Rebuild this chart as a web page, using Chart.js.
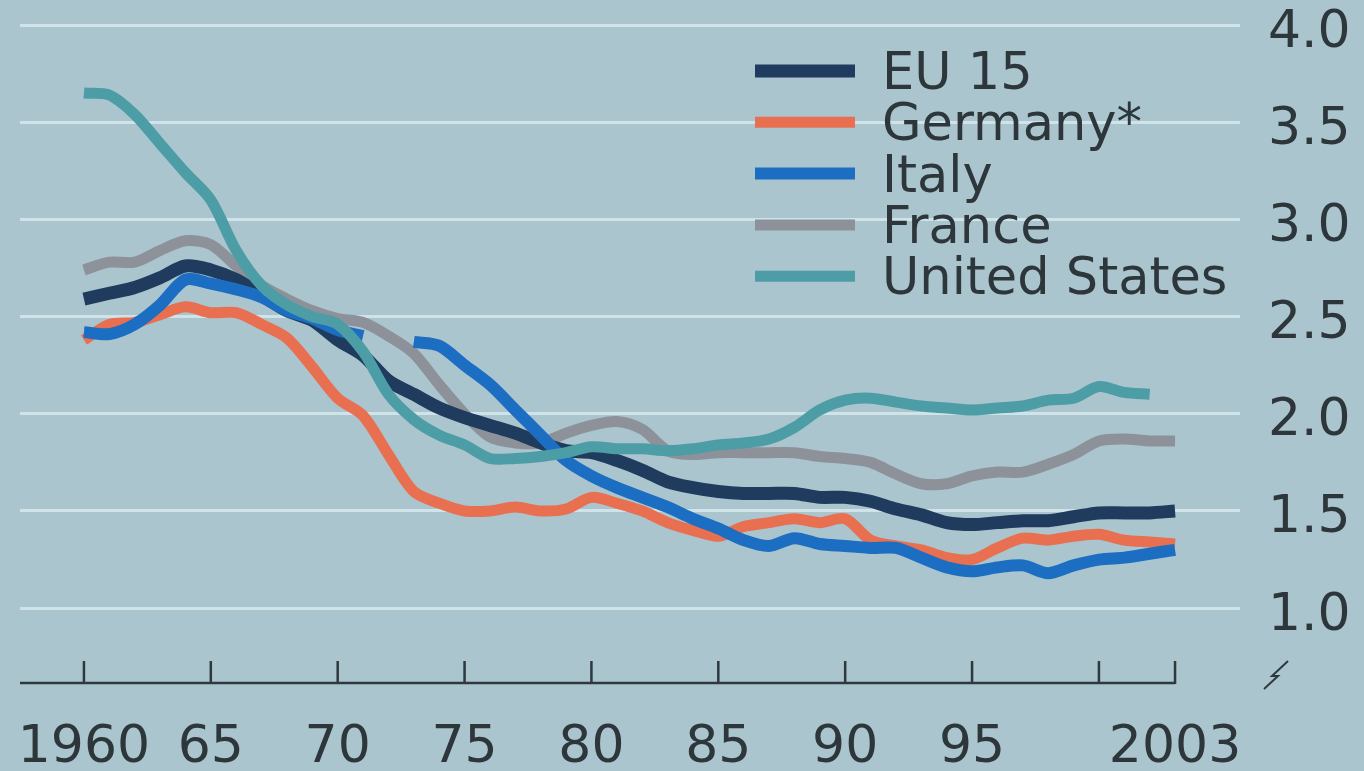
<!DOCTYPE html>
<html>
<head>
<meta charset="utf-8">
<script src="https://cdn.jsdelivr.net/npm/chart.js@4.4.1/dist/chart.umd.min.js"></script>
<style>
  html, body { margin: 0; padding: 0; background: #abc5ce; }
  #wrap { width: 1364px; height: 771px; }
</style>
</head>
<body>
<div id="wrap"><canvas id="myChart" width="1364" height="771"></canvas></div>
<script>
const years = [1960, 1961, 1962, 1963, 1964, 1965, 1966, 1967, 1968, 1969,
    1970, 1971, 1972, 1973, 1974, 1975, 1976, 1977, 1978, 1979,
    1980, 1981, 1982, 1983, 1984, 1985, 1986, 1987, 1988, 1989,
    1990, 1991, 1992, 1993, 1994, 1995, 1996, 1997, 1998, 1999,
    2000, 2001, 2002, 2003];

const eu15 = [2.59, 2.62, 2.65, 2.70, 2.76, 2.74, 2.69, 2.61, 2.53, 2.48,
    2.38, 2.30, 2.17, 2.10, 2.03, 1.98, 1.94, 1.90, 1.85, 1.81,
    1.80, 1.76, 1.71, 1.65, 1.62, 1.60, 1.59, 1.59, 1.59, 1.57,
    1.57, 1.55, 1.51, 1.48, 1.44, 1.43, 1.44, 1.45, 1.45, 1.47,
    1.49, 1.49, 1.49, 1.50];

const germany = [2.38, 2.46, 2.47, 2.51, 2.55, 2.52, 2.52, 2.46, 2.39, 2.24,
    2.08, 1.99, 1.79, 1.60, 1.54, 1.50, 1.50, 1.52, 1.50, 1.51,
    1.57, 1.54, 1.50, 1.44, 1.40, 1.37, 1.42, 1.44, 1.46, 1.44,
    1.46, 1.35, 1.32, 1.30, 1.26, 1.25, 1.31, 1.36, 1.35, 1.37,
    1.38, 1.35, 1.34, 1.33];

const italy = [2.42, 2.41, 2.46, 2.56, 2.69, 2.67, 2.64, 2.60, 2.53, 2.49,
    2.43, 2.40, null, 2.37, 2.35, 2.25, 2.15, 2.02, 1.89, 1.76,
    1.68, 1.62, 1.57, 1.52, 1.46, 1.41, 1.35, 1.32, 1.36, 1.33,
    1.32, 1.31, 1.31, 1.26, 1.21, 1.19, 1.21, 1.22, 1.18, 1.22,
    1.25, 1.26, 1.28, 1.30];

const france = [2.74, 2.78, 2.78, 2.84, 2.89, 2.87, 2.76, 2.66, 2.59, 2.53,
    2.49, 2.47, 2.40, 2.31, 2.15, 2.00, 1.88, 1.85, 1.85, 1.90,
    1.94, 1.96, 1.92, 1.81, 1.79, 1.80, 1.80, 1.80, 1.80, 1.78,
    1.77, 1.75, 1.69, 1.64, 1.64, 1.68, 1.70, 1.70, 1.74, 1.79,
    1.86, 1.87, 1.86, 1.86];

const unitedStates = [3.65, 3.64, 3.54, 3.39, 3.24, 3.10, 2.84, 2.66, 2.56, 2.50,
    2.46, 2.32, 2.10, 1.97, 1.89, 1.84, 1.77, 1.77, 1.78, 1.80,
    1.83, 1.82, 1.82, 1.81, 1.82, 1.84, 1.85, 1.87, 1.93, 2.02,
    2.07, 2.08, 2.06, 2.04, 2.03, 2.02, 2.03, 2.04, 2.07, 2.08,
    2.14, 2.11, 2.10, null];

const xTicks = [1960, 1965, 1970, 1975, 1980, 1985, 1990, 1995, 2000, 2003];
const xTickLabels = ['1960', '65', '70', '75', '80', '85', '90', '95', '', '2003'];
const yTicks = [1.0, 1.5, 2.0, 2.5, 3.0, 3.5, 4.0];

const textColor = '#2d363a';
const fontFamily = '"DejaVu Sans", Verdana, sans-serif';

function pairs(vals) {
    return years.map((yr, i) => ({ x: yr, y: vals[i] }));
}

// background + x axis line with upward ticks + break mark + legend
const decor = {
    id: 'decor',
    beforeDraw(chart) {
        const ctx = chart.ctx;
        ctx.save();
        ctx.fillStyle = '#abc5ce';
        ctx.fillRect(0, 0, chart.width, chart.height);
        ctx.restore();
    },
    afterDraw(chart) {
        const ctx = chart.ctx;
        const area = chart.chartArea;
        const xs = chart.scales.x;
        const yb = area.bottom;
        ctx.save();
        ctx.strokeStyle = '#2e393e';
        ctx.lineWidth = 2.5;
        ctx.beginPath();
        ctx.moveTo(area.left, yb);
        ctx.lineTo(xs.getPixelForValue(2003), yb);
        xTicks.forEach(v => {
            const px = xs.getPixelForValue(v);
            ctx.moveTo(px, yb + 1);
            ctx.lineTo(px, yb - 22);
        });
        ctx.stroke();

        // axis break
        const bx = area.right + 36, by = yb - 8;
        ctx.lineWidth = 2;
        ctx.beginPath();
        ctx.moveTo(bx - 12, by + 14);
        ctx.lineTo(bx + 2, by + 1);
        ctx.lineTo(bx - 4, by + 1);
        ctx.lineTo(bx + 12, by - 14);
        ctx.stroke();

        // legend
        const lx = area.left + 735;
        let ly = area.top + 46;
        ctx.font = '51px ' + fontFamily;
        ctx.textBaseline = 'alphabetic';
        chart.data.datasets.forEach(ds => {
            ctx.strokeStyle = ds.borderColor;
            ctx.lineWidth = ds.borderWidth;
            ctx.lineCap = 'butt';
            ctx.beginPath();
            ctx.moveTo(lx, ly);
            ctx.lineTo(lx + 100, ly);
            ctx.stroke();
            ctx.fillStyle = textColor;
            ctx.fillText(ds.label, lx + 127, ly + 18);
            ly += 51.3;
        });
        ctx.restore();
    }
};

const lineStyle = {
    pointRadius: 0,
    tension: 0.3,
    borderCapStyle: 'butt',
    borderJoinStyle: 'round',
    spanGaps: false,
    fill: false
};

const data = {
    datasets: [
        Object.assign({ label: 'EU 15', data: pairs(eu15), borderColor: '#1f3b5e', borderWidth: 13, order: 2 }, lineStyle),
        Object.assign({ label: 'Germany*', data: pairs(germany), borderColor: '#e86f50', borderWidth: 11, order: 3 }, lineStyle),
        Object.assign({ label: 'Italy', data: pairs(italy), borderColor: '#1b6ec2', borderWidth: 12, order: 1 }, lineStyle),
        Object.assign({ label: 'France', data: pairs(france), borderColor: '#8d9199', borderWidth: 11, order: 4 }, lineStyle),
        Object.assign({ label: 'United States', data: pairs(unitedStates), borderColor: '#4c9da6', borderWidth: 11, order: 0 }, lineStyle)
    ]
};

const config = {
    type: 'line',
    data: data,
    options: {
        responsive: false,
        animation: false,
        devicePixelRatio: 1,
        layout: { padding: { left: 20, top: 25, right: 0, bottom: 0 } },
        plugins: { legend: { display: false }, tooltip: { enabled: false } },
        scales: {
            x: {
                type: 'linear',
                min: 1957.48,
                max: 2005.56,
                grid: { display: false },
                border: { display: false },
                afterBuildTicks: s => { s.ticks = xTicks.map(v => ({ value: v })); },
                afterFit: s => {
                    s.height = 88;
                    s.paddingLeft = 0;
                    s.paddingRight = 0;
                },
                ticks: {
                    autoSkip: false,
                    maxRotation: 0,
                    padding: 26,
                    color: textColor,
                    font: { family: fontFamily, size: 52 },
                    callback: (v, i) => xTickLabels[i]
                }
            },
            y: {
                position: 'right',
                min: 0.615,
                max: 4.0,
                afterBuildTicks: s => { s.ticks = yTicks.map(v => ({ value: v })); },
                afterFit: s => {
                    s.width = 124;
                    s.paddingTop = 0;
                    s.paddingBottom = 0;
                },
                grid: { color: 'rgba(214,231,236,0.85)', lineWidth: 3, drawTicks: false },
                border: { display: false },
                ticks: {
                    padding: 28,
                    labelOffset: 8,
                    color: textColor,
                    font: { family: fontFamily, size: 52 },
                    callback: v => v.toFixed(1)
                }
            }
        }
    },
    plugins: [decor]
};

const myChart = new Chart(document.getElementById('myChart'), config);
</script>
</body>
</html>
